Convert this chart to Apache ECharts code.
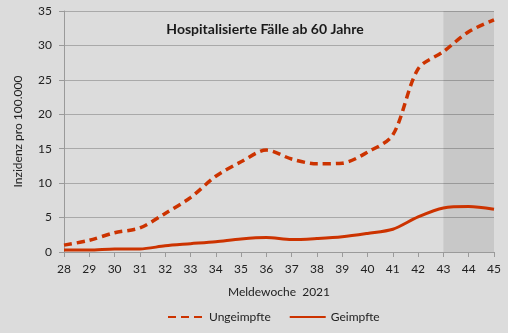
<!DOCTYPE html>
<html>
<head>
<meta charset="utf-8">
<script src="https://cdn.jsdelivr.net/npm/echarts@6/dist/echarts.min.js"></script>
<style>
  html, body { margin: 0; padding: 0; background: #dcdcdc; }
  #chart { width: 508px; height: 333px; }
</style>
</head>
<body>
<div id="chart"></div>
<script>
// Meldewochen 2021
const weeks = ['28','29','30','31','32','33','34','35','36','37','38','39','40','41','42','43','44','45'];
// Inzidenz pro 100.000, Altersgruppe ab 60 Jahre
const ungeimpfte = [1.0, 1.7, 2.8, 3.5, 5.6, 7.9, 11.0, 13.1, 14.8, 13.5, 12.8, 12.9, 14.5, 17.0, 26.6, 29.1, 32.0, 33.7];
const geimpfte   = [0.3, 0.3, 0.45, 0.45, 0.9, 1.2, 1.5, 1.9, 2.1, 1.8, 1.95, 2.2, 2.7, 3.3, 5.1, 6.4, 6.6, 6.2];
const yTicks = { min: 0, max: 35, interval: 5 };
// Zeitraum mit noch unvollständigen Meldungen
const shadedFrom = '43', shadedTo = '45';

const font = 'Lato, "Noto Sans", sans-serif';
const lineColor = '#cc3300';

const chart = echarts.init(document.getElementById('chart'), null, { renderer: 'canvas' });
chart.setOption({
  backgroundColor: '#dcdcdc',
  animation: false,
  textStyle: { fontFamily: font },
  title: {
    text: 'Hospitalisierte Fälle ab 60 Jahre',
    left: 260, top: 17, textAlign: 'center',
    textStyle: { fontFamily: font, fontSize: 14, fontWeight: 'bold', color: '#1a1a1a' }
  },
  legend: {
    bottom: 5, left: 162,
    itemWidth: 36, itemHeight: 10, itemGap: 18,
    itemStyle: { opacity: 0 },
    textStyle: { fontFamily: font, fontSize: 12, color: '#222' },
    data: ['Ungeimpfte', 'Geimpfte']
  },
  grid: { left: 64, right: 14, top: 11, bottom: 81 },
  xAxis: {
    type: 'category', data: weeks, boundaryGap: false,
    name: 'Meldewoche  2021', nameLocation: 'middle', nameGap: 34,
    nameTextStyle: { fontFamily: font, fontSize: 12, color: '#222' },
    axisLine: { lineStyle: { color: '#9a9a9a', width: 1 } },
    axisTick: { length: 5, lineStyle: { color: '#9a9a9a' } },
    axisLabel: { fontFamily: font, fontSize: 12, color: '#222', margin: 11 },
    splitLine: { show: false }
  },
  yAxis: {
    type: 'value', min: yTicks.min, max: yTicks.max, interval: yTicks.interval,
    name: 'Inzidenz pro 100.000', nameLocation: 'middle', nameGap: 40, nameRotate: 90,
    nameTextStyle: { fontFamily: font, fontSize: 12, color: '#222' },
    axisLine: { show: true, lineStyle: { color: '#9a9a9a', width: 1 } },
    axisTick: { show: true, length: 5, lineStyle: { color: '#9a9a9a' } },
    axisLabel: { fontFamily: font, fontSize: 12, color: '#222', margin: 12 },
    splitLine: { lineStyle: { color: '#a9a9a9', width: 1 } }
  },
  series: [
    {
      name: 'Ungeimpfte', type: 'line', data: ungeimpfte,
      smooth: 0.3, showSymbol: false, symbol: 'none',
      lineStyle: { color: lineColor, width: 3.5, type: [8, 5] },
      itemStyle: { color: lineColor },
      markArea: {
        silent: true,
        itemStyle: { color: 'rgba(0,0,0,0.09)' },
        data: [[{ xAxis: shadedFrom }, { xAxis: shadedTo }]]
      },
      z: 3
    },
    {
      name: 'Geimpfte', type: 'line', data: geimpfte,
      smooth: 0.3, showSymbol: false, symbol: 'none',
      lineStyle: { color: lineColor, width: 3 },
      itemStyle: { color: lineColor },
      z: 3
    }
  ]
});
</script>
</body>
</html>
